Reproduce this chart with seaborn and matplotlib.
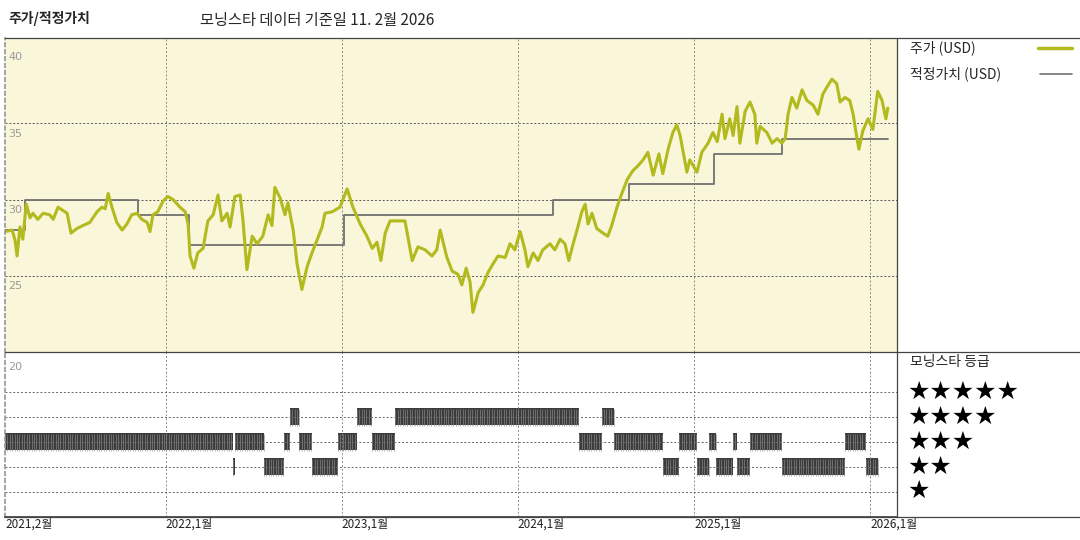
import numpy as np
import pandas as pd
import matplotlib
matplotlib.use("Agg")
import matplotlib.pyplot as plt
import seaborn as sns

sns.set_theme(style="white")
plt.rcParams['font.family'] = ['Noto Sans CJK KR', 'DejaVu Sans']

START = pd.Timestamp("2021-02-01")

price_day = [0,15,21,25,31,37,44,52,58,68,79,93,100,110,129,137,149,162,176,191,201,208,214,222,232,243,253,263,274,284,295,301,307,317,328,338,349,363,374,380,384,392,400,411,421,432,442,450,461,467,477,488,494,502,513,523,535,546,554,560,571,581,587,598,606,616,627,637,647,658,664,679,695,710,722,737,751,762,772,780,789,799,815,830,845,857,872,886,896,903,917,928,940,948,957,965,971,982,992,1002,1013,1023,1038,1048,1058,1069,1079,1085,1096,1106,1116,1131,1141,1152,1162,1170,1179,1187,1197,1204,1210,1218,1228,1241,1251,1259,1270,1280,1291,1303,1313,1324,1334,1345,1357,1365,1376,1386,1394,1401,1415,1421,1436,1446,1459,1469,1478,1488,1494,1504,1511,1519,1525,1536,1546,1556,1560,1567,1581,1592,1602,1612,1619,1625,1633,1643,1654,1664,1677,1687,1697,1706,1716,1726,1733,1743,1753,1760,1768,1772,1780,1791,1801,1811,1820,1828,1832]
price_val = [27.9,28.0,27.3,26.3,28.2,27.4,29.7,28.8,29.1,28.7,29.1,29.0,28.7,29.5,29.1,27.8,28.1,28.3,28.5,29.2,29.5,29.4,30.4,29.5,28.5,28.0,28.4,29.0,29.1,28.7,28.5,27.9,29.0,29.2,29.9,30.2,30.0,29.5,29.2,28.4,26.3,25.5,26.5,26.8,28.6,29.0,30.3,28.6,29.1,28.2,30.2,30.3,28.6,25.4,27.6,27.1,27.6,29.0,28.3,30.8,30.1,29.0,29.8,28.0,25.8,24.1,25.6,26.5,27.3,28.2,29.1,29.2,29.5,30.7,29.5,28.4,27.6,26.8,27.2,26.0,27.8,28.6,28.6,28.6,26.0,26.9,26.7,26.3,26.7,28.0,26.2,25.3,25.1,24.4,25.5,24.6,22.6,23.9,24.4,25.2,25.8,26.3,26.2,27.1,26.7,27.9,26.7,25.6,26.5,26.0,26.7,27.1,26.7,27.4,27.1,26.0,27.1,28.0,29.2,29.7,28.4,29.1,28.1,27.8,27.6,28.3,29.5,30.4,31.3,31.9,32.2,32.6,33.1,31.6,33.0,31.7,33.3,34.4,34.9,34.2,31.8,32.6,31.8,33.1,33.7,34.4,33.8,35.6,34.0,35.3,34.2,36.1,33.7,35.8,36.4,35.6,33.7,34.8,34.4,33.7,34.0,33.7,34.0,35.6,36.7,36.0,37.2,36.5,36.2,35.6,36.9,37.4,37.9,37.6,36.4,36.7,36.5,35.6,34.0,33.3,34.5,35.3,34.6,37.1,36.5,35.3,36.0]

fv_start = ["2021-02-01","2021-03-14","2021-11-05","2022-02-17","2023-01-05","2024-03-15","2024-08-18","2025-02-12","2025-07-03"]
fv_val = [28.0,30.0,29.0,27.0,29.0,30.0,31.0,33.0,34.0]
fv_end = "2026-02-07"

rt_start = ["2021-02-01","2022-05-20","2022-05-24","2022-07-23","2022-09-04","2022-09-15","2022-10-05","2022-11-01","2022-12-24","2023-02-01","2023-03-05","2023-04-22","2024-05-08","2024-06-23","2024-07-18","2024-10-29","2024-12-01","2025-01-07","2025-02-01","2025-02-16","2025-03-22","2025-03-31","2025-04-27","2025-07-02","2025-11-11","2025-12-23"]
rt_end = rt_start[1:] + ["2026-01-17"]
rt_stars = [3,2,3,2,3,4,3,2,3,4,3,4,3,4,3,2,3,2,3,2,3,2,3,2,3,2]

xtick_dates = ["2021-02-01","2022-01-01","2023-01-01","2024-01-01","2025-01-01","2026-01-01"]
xtick_labels = ["2021,2월","2022,1월","2023,1월","2024,1월","2025,1월","2026,1월"]
ytick_vals = [40,35,30,25]

W, H = 1080, 540
fig = plt.figure(figsize=(10.8, 5.4), dpi=100)
L, R = 5/W, 897/W
ax = fig.add_axes([L, 1-352/H, R-L, (352-38)/H])
ax2 = fig.add_axes([L, 1-517/H, R-L, (517-352)/H], sharex=ax)

pdf = pd.DataFrame({"date": START + pd.to_timedelta(price_day, unit="D"), "price": price_val})
fv_dates = list(pd.to_datetime(fv_start)) + [pd.Timestamp(fv_end)]
fv_vals = fv_val + [fv_val[-1]]
fdf = pd.DataFrame({"date": fv_dates, "fv": fv_vals})

xmin = START
xmax = START + (pd.Timestamp("2026-01-01") - START) * (892/865)

ax.set_facecolor("#f9f6da")
for y in [25, 30, 35]:
    ax.axhline(y, color="#555555", lw=0.7, ls=(0, (2, 2)))
for d in xtick_dates[1:]:
    ax.axvline(pd.Timestamp(d), color="#888888", lw=0.7, ls=(0, (2, 2)))
    ax2.axvline(pd.Timestamp(d), color="#888888", lw=0.7, ls=(0, (2, 2)))
ax.step(fdf["date"], fdf["fv"], where="post", color="#707070", lw=1.3)
sns.lineplot(data=pdf, x="date", y="price", ax=ax, color="#b2ba1e", lw=2.2)
ax.set_ylim(20, 40.6)
ax.set_xlim(xmin, xmax)
for v in ytick_vals:
    ax.text(0.004, v - 0.35, str(v), transform=ax.get_yaxis_transform(), color="#999999",
            fontsize=8, va="top", ha="left", family="DejaVu Sans")
ax.set_xlabel(""); ax.set_ylabel("")
ax.set_xticks([]); ax.set_yticks([])
for s in ax.spines.values():
    s.set_visible(False)
ax.spines["left"].set_visible(True)
ax.spines["left"].set_color("#999999")
ax.spines["left"].set_linestyle((0, (2, 2)))

# ratings
ax2.set_ylim(0, 6.6)
for r in [1, 2, 3, 4, 5]:
    ax2.axhline(r, color="#666666", lw=0.7, ls=(0, (2, 2)))
hh = 0.34
for s, e, st in zip(rt_start, rt_end, rt_stars):
    sd, ed = pd.Timestamp(s), pd.Timestamp(e)
    ax2.fill_between([sd, ed], st - hh, st + hh, color="#3c3c3c", lw=0)
    ticks = pd.date_range(sd, ed, freq="5D")
    ax2.vlines(ticks, st - hh, st + hh, color="#8a8a8a", lw=0.45)
ax2.text(0.004, 6.2, "20", transform=ax2.get_yaxis_transform(), color="#999999",
         fontsize=8, va="top", ha="left", family="DejaVu Sans")
ax2.set_xticks([]); ax2.set_yticks([])
for s in ax2.spines.values():
    s.set_visible(False)
ax2.spines["bottom"].set_visible(True)
ax2.spines["bottom"].set_color("#444444")
ax2.spines["left"].set_visible(True)
ax2.spines["left"].set_color("#999999")
ax2.spines["left"].set_linestyle((0, (2, 2)))
for d, lab in zip(xtick_dates, xtick_labels):
    ax2.text(pd.Timestamp(d), -0.005, lab, transform=ax2.get_xaxis_transform(),
             fontsize=8.5, va="top", ha="left", color="#222222")

# frame lines across full width
for yy in [38, 352, 517]:
    fig.add_artist(plt.Line2D([L, 1], [1-yy/H, 1-yy/H], color="#444444", lw=0.9))
fig.add_artist(plt.Line2D([R, R], [1-517/H, 1-38/H], color="#444444", lw=0.9))

fig.text(8/W, 1-19/H, "주가/적정가치", fontsize=10, fontweight="bold", va="center", ha="left")
fig.text(200/W, 1-21/H, "모닝스타 데이터 기준일 11. 2월 2026", fontsize=11, va="center", ha="left")
fig.text(910/W, 1-48/H, "주가 (USD)", fontsize=10, va="center", ha="left")
fig.add_artist(plt.Line2D([1038/W, 1072/W], [1-48/H, 1-48/H], color="#b2ba1e", lw=2.5))
fig.text(910/W, 1-74/H, "적정가치 (USD)", fontsize=10, va="center", ha="left")
fig.add_artist(plt.Line2D([1040/W, 1072/W], [1-74/H, 1-74/H], color="#707070", lw=1.2))
fig.text(910/W, 1-362/H, "모닝스타 등급", fontsize=10, va="center", ha="left")
for i, n in enumerate([5, 4, 3, 2, 1]):
    fig.text(907/W, 1-(392+i*24.8)/H, "★"*n, fontsize=18, va="center", ha="left",
             family="DejaVu Sans", color="black")

fig.savefig("out.png", dpi=100)
